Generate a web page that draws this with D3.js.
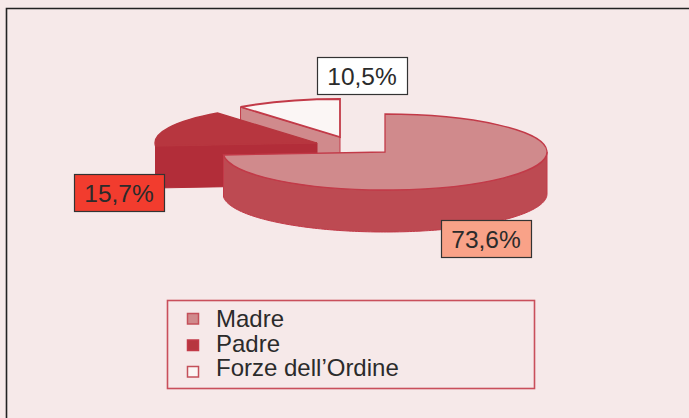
<!DOCTYPE html>
<html><head><meta charset="utf-8">
<script src="https://cdn.jsdelivr.net/npm/d3@7"></script>
<style>html,body{margin:0;padding:0;background:#f6ebeb}svg{display:block}</style>
</head><body><svg id="c" width="689" height="418"></svg>
<script>
const categories = ["Madre", "Padre", "Forze dell\u2019Ordine"];
const values = [73.6, 15.7, 10.5];
const valueLabels = ["73,6%", "15,7%", "10,5%"];
const topColors = ["#d08a8c", "#b7363f", "#fbf6f5"];
const wallColors = ["#bd4a52", "#b22d39", "#d08a8c"];
const labelColors = ["#f9a288", "#f23c2e", "#ffffff"];
const sliceCenters = [[385,152],[317,143],[340,137]];
const labelBoxes = [[441,220],[74,174],[317,57]];
const RX=162, RY=38, DEPTH=42, LINE="#c23a48";

const svg=d3.select("#c");
svg.append("rect").attr("width",689).attr("height",418).attr("fill","#f6e9e9");
svg.append("path").attr("d","M6.5,418V8.5H689").attr("fill","none").attr("stroke","#222").attr("stroke-width",1.6);

const arcs=d3.pie().sort(null).value(d=>d)(values);
const px=(c,a,dy=0)=>[c[0]+RX*Math.sin(a), c[1]-RY*Math.cos(a)+dy];
const line=d3.line();
const arcGen=d3.arc().innerRadius(0).outerRadius(RX);

[2,1,0].forEach(i=>{
  const a=arcs[i], c=sliceCenters[i], g=svg.append("g");
  if(i===1){
    g.append("path").attr("d",line([c,[c[0],c[1]+DEPTH],px(c,a.startAngle,DEPTH),px(c,a.startAngle)])+"Z")
      .attr("fill",wallColors[i]).attr("stroke",wallColors[i]);
  }
  if(i===2){
    const e=px(c,a.startAngle);
    g.append("path").attr("d",line([e,c,[c[0],c[1]+DEPTH],[e[0],e[1]+DEPTH]])+"Z")
      .attr("fill",wallColors[i]).attr("stroke",LINE);
  }
  if(i===0){
    const angs=d3.range(Math.PI/2,a.endAngle,0.02).concat([a.endAngle]);
    const pts=angs.map(t=>px(c,t)).concat(angs.slice().reverse().map(t=>px(c,t,DEPTH)));
    g.append("path").attr("d",line(pts)+"Z").attr("fill",wallColors[i]).attr("stroke",LINE).attr("stroke-width",1);
  }
  g.append("path").attr("d",arcGen({startAngle:a.startAngle,endAngle:a.endAngle}))
    .attr("transform",`translate(${c[0]},${c[1]}) scale(1,${RY/RX})`)
    .attr("fill",topColors[i]).attr("stroke",i===1?topColors[1]:LINE)
    .attr("stroke-width",i===2?1.8:1.3).attr("vector-effect","non-scaling-stroke");
});

valueLabels.forEach((t,i)=>{
  const b=labelBoxes[i];
  svg.append("rect").attr("x",b[0]+.5).attr("y",b[1]+.5).attr("width",90).attr("height",37)
    .attr("fill",labelColors[i]).attr("stroke","#333").attr("stroke-width",1.2);
  svg.append("text").attr("x",b[0]+45).attr("y",b[1]+28).attr("text-anchor","middle")
    .attr("font-family","Liberation Sans").attr("font-size",24.5).attr("fill","#2b2b2b").text(t);
});

svg.append("rect").attr("x",167.5).attr("y",300.5).attr("width",367).attr("height",88)
  .attr("fill","none").attr("stroke","#c94f5b").attr("stroke-width",1.6);
const ly=d3.scalePoint().domain(categories).range([327,376]);
const my=d3.scalePoint().domain(categories).range([313.5,366.5]);
categories.forEach((n,i)=>{
  svg.append("text").attr("x",216).attr("y",ly(n)).attr("font-family","Liberation Sans")
    .attr("font-size",24).attr("fill","#2b2b2b").text(n);
  svg.append("rect").attr("x",187.5).attr("y",my(n)).attr("width",11).attr("height",10.5)
    .attr("fill",topColors[i]).attr("stroke",i===1?"#c23a48":"#c4505a").attr("stroke-width",1.5);
});
</script></body></html>
